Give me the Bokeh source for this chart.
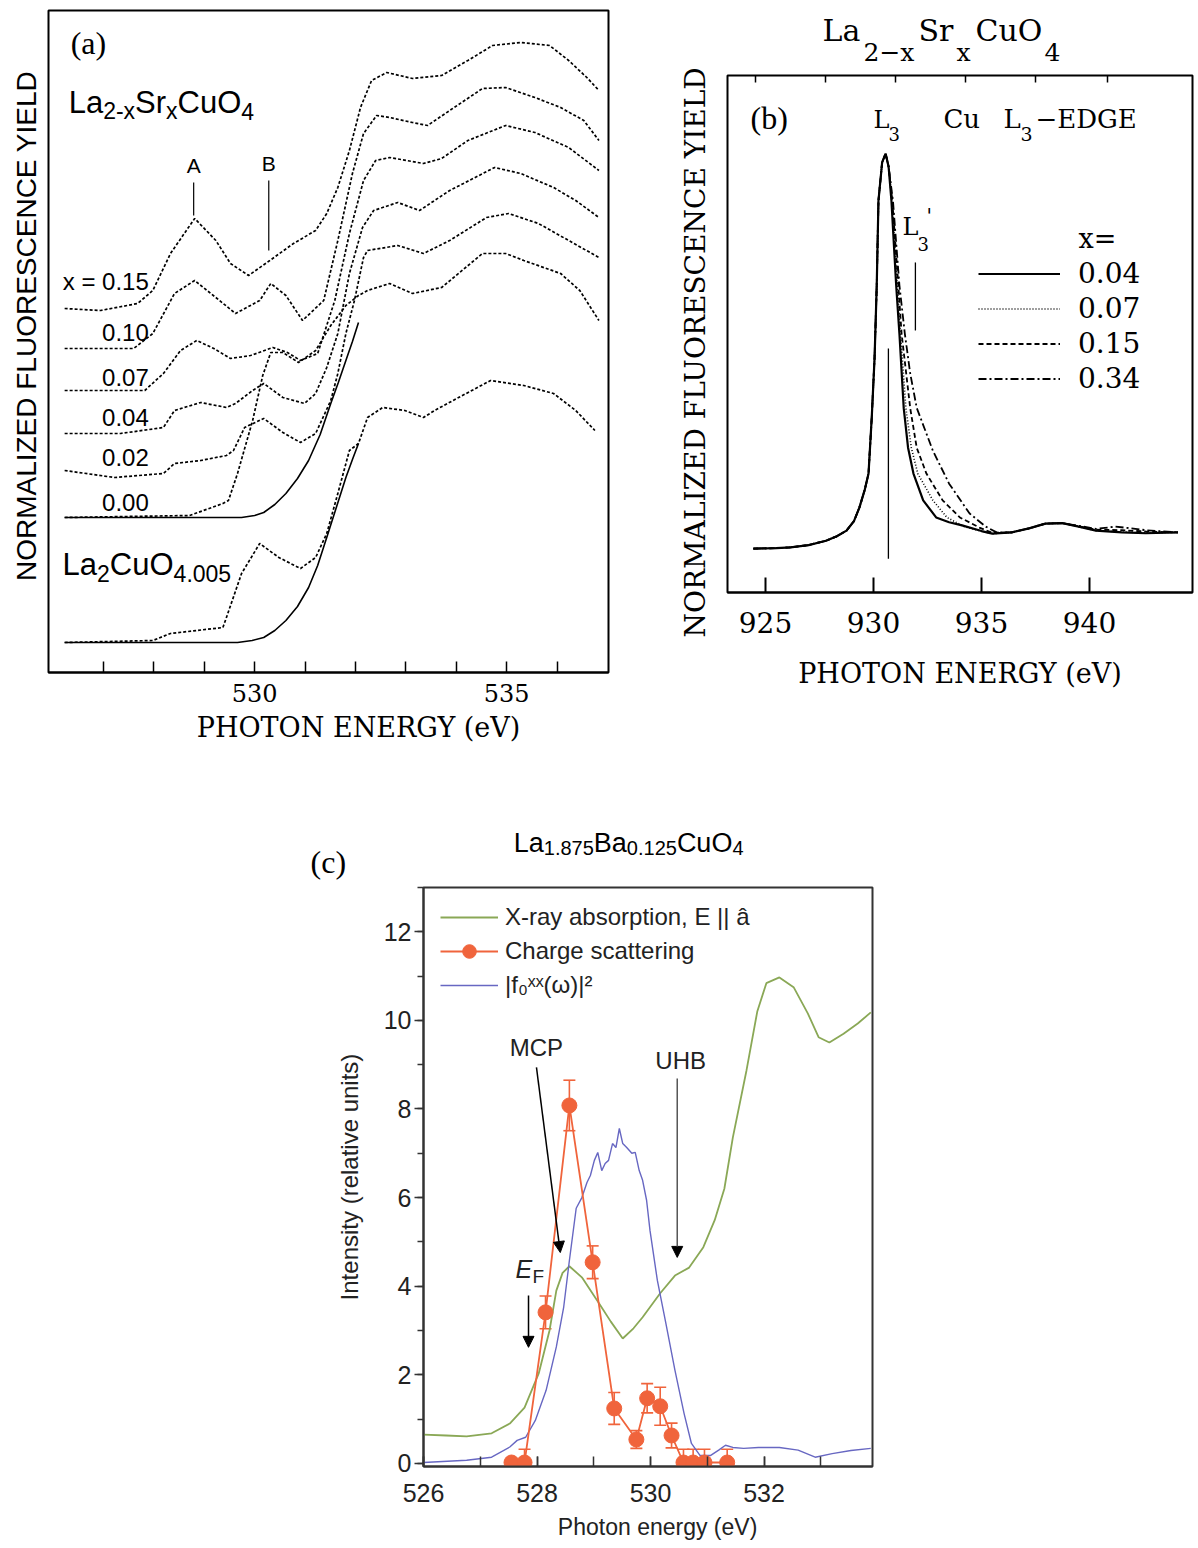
import math
from bokeh.plotting import figure
from bokeh.models import (Label, Legend, LegendItem, FixedTicker, SingleIntervalTicker,
                          LinearAxis, Whisker, TeeHead, Arrow, NormalHead, ColumnDataSource)
from bokeh.layouts import column, row
from bokeh.embed import file_html
from bokeh.resources import INLINE

# ---------------- Panel (a): O K-edge fluorescence yield, La2-xSrxCuO4 ----------------
A_TICKS_MINOR = [527, 528, 529, 531, 532, 533, 534, 536]
A_TICKS_LABELED = [530, 535]
A_CURVE_LABELS = ["x = 0.15", "0.10", "0.07", "0.04", "0.02", "0.00"]
A_LABEL_Y = [3.91, 3.40, 2.95, 2.55, 2.15, 1.70]

A_E_015 = [526.23, 526.94, 527.68, 527.98, 528.33, 528.81, 529.23, 529.52, 529.88, 530.30, 530.77, 531.21,
           531.43, 531.65, 531.88, 532.10, 532.32, 532.62, 533.13, 533.71, 534.23, 534.72, 535.28, 535.85,
           536.23, 536.59, 536.83]
A_I_015 = [3.64, 3.62, 3.69, 3.82, 4.19, 4.54, 4.32, 4.09, 3.97, 4.12, 4.29, 4.42, 4.59, 4.85, 5.22, 5.65,
           5.92, 6.00, 5.94, 5.97, 6.12, 6.27, 6.30, 6.27, 6.12, 5.95, 5.82]
A_E_010 = [526.23, 527.60, 527.98, 528.41, 528.81, 529.23, 529.62, 530.10, 530.32, 530.62, 530.95, 531.37,
           531.65, 531.94, 532.16, 532.42, 532.68, 533.13, 533.43, 533.87, 534.52, 534.98, 535.56, 536.07,
           536.53, 536.83]
A_I_010 = [3.24, 3.24, 3.39, 3.79, 3.92, 3.75, 3.59, 3.72, 3.89, 3.77, 3.52, 3.72, 4.32, 4.99, 5.39, 5.57,
           5.55, 5.50, 5.47, 5.62, 5.84, 5.85, 5.75, 5.65, 5.52, 5.32]
A_E_007 = [526.23, 527.82, 528.19, 528.53, 528.85, 529.19, 529.52, 529.92, 530.36, 530.65, 530.91, 531.25,
           531.59, 531.88, 532.16, 532.40, 532.68, 533.35, 533.71, 534.23, 534.98, 535.56, 536.23, 536.83]
A_I_007 = [2.82, 2.82, 2.99, 3.22, 3.32, 3.24, 3.14, 3.17, 3.25, 3.20, 3.12, 3.19, 3.72, 4.39, 4.92, 5.12,
           5.15, 5.09, 5.14, 5.32, 5.47, 5.40, 5.25, 5.02]
A_E_004 = [526.23, 527.34, 528.19, 528.41, 528.93, 529.44, 529.62, 529.96, 530.18, 530.56, 530.99, 531.21,
           531.43, 531.65, 531.88, 532.14, 532.36, 532.84, 533.27, 533.87, 534.76, 535.28, 535.93, 536.37,
           536.83]
A_I_004 = [2.39, 2.39, 2.45, 2.62, 2.70, 2.65, 2.69, 2.82, 2.89, 2.75, 2.69, 2.79, 3.05, 3.39, 3.99, 4.45,
           4.62, 4.70, 4.62, 4.82, 5.05, 4.99, 4.85, 4.72, 4.55]
A_E_002 = [526.23, 527.22, 528.19, 528.41, 528.93, 529.44, 529.58, 529.80, 530.18, 530.56, 530.91, 531.21,
           531.51, 531.65, 531.81, 531.98, 532.16, 532.24, 532.84, 533.35, 533.87, 534.60, 535.04, 535.63,
           536.23, 536.83]
A_I_002 = [2.02, 1.95, 1.99, 2.09, 2.12, 2.17, 2.22, 2.45, 2.54, 2.40, 2.30, 2.39, 2.72, 2.99, 3.39, 3.72,
           4.15, 4.22, 4.27, 4.19, 4.32, 4.55, 4.59, 4.49, 4.32, 4.15]
A_E_000 = [526.23, 528.71, 529.37, 529.48, 529.66, 529.96, 530.16, 530.32, 530.56, 530.87, 531.21, 531.51,
           531.81, 532.06, 532.24, 532.68, 533.13, 533.71, 534.52, 534.98, 535.34, 536.07, 536.45, 536.83]
A_I_000 = [1.55, 1.57, 1.69, 1.72, 1.99, 2.52, 2.97, 3.20, 3.20, 3.10, 3.22, 3.47, 3.67, 3.77, 3.82, 3.89,
           3.79, 3.85, 4.19, 4.19, 4.12, 3.99, 3.82, 3.52]
A_E_000_STEP = [526.23, 529.74, 530.00, 530.18, 530.40, 530.62, 530.85, 531.07, 531.30, 531.51, 531.66,
                531.81, 531.94, 532.06]
A_I_000_STEP = [1.55, 1.55, 1.57, 1.60, 1.68, 1.79, 1.94, 2.12, 2.38, 2.69, 2.90, 3.12, 3.31, 3.50]
A_E_LCO = [526.23, 527.98, 528.33, 529.37, 529.44, 529.74, 530.10, 530.48, 530.91, 531.21, 531.43, 531.65,
           531.88, 532.06, 532.24, 532.54, 532.98, 533.35, 533.57, 534.01, 534.68, 535.34, 535.93, 536.37,
           536.75]
A_I_LCO = [0.30, 0.32, 0.39, 0.45, 0.55, 0.99, 1.29, 1.15, 1.04, 1.15, 1.39, 1.79, 2.22, 2.29, 2.55, 2.65,
           2.62, 2.55, 2.62, 2.74, 2.92, 2.87, 2.79, 2.62, 2.42]
A_E_LCO_STEP = [526.23, 529.66, 529.95, 530.18, 530.40, 530.62, 530.85, 531.07, 531.25, 531.43, 531.62,
                531.81, 531.94, 532.06]
A_I_LCO_STEP = [0.30, 0.30, 0.32, 0.35, 0.42, 0.52, 0.66, 0.85, 1.07, 1.35, 1.65, 1.95, 2.13, 2.29]
A_MARK_E = [528.79, 530.28]
A_MARK_LO = [4.57, 4.22]
A_MARK_HI = [4.90, 4.92]
A_MARK_TEXT = ["A", "B"]

# ---------------- Panel (b): Cu L3-edge ----------------
B_TICKS = [925, 930, 935, 940]
B_TOP_TICKS = [924.54, 927.78, 931.02, 934.26, 937.5, 940.83]
B_E_LEFT = [924.44, 925.5, 926.16, 927.0, 927.8, 928.3, 928.75, 929.1, 929.35, 929.6, 929.77, 929.92,
            930.05, 930.15, 930.23, 930.4, 930.56]
B_I_LEFT = [0.100, 0.101, 0.103, 0.108, 0.118, 0.128, 0.141, 0.163, 0.194, 0.235, 0.271, 0.40, 0.535,
            0.70, 0.893, 0.98, 1.0]
B_E_004 = [930.7, 930.83, 931.05, 931.2, 931.4, 931.6, 931.85, 932.3, 932.9, 933.5, 934.1, 935.0, 935.5,
           936.4, 937.2, 937.96, 938.75, 939.5, 940.3, 941.5, 942.6, 944.1]
B_I_004 = [0.97, 0.893, 0.70, 0.59, 0.42, 0.33, 0.271, 0.21, 0.171, 0.16, 0.153, 0.140, 0.134, 0.137,
           0.146, 0.157, 0.158, 0.150, 0.141, 0.137, 0.135, 0.137]
B_E_007 = [930.7, 930.85, 931.1, 931.25, 931.5, 931.75, 932.05, 932.75, 933.4, 934.2, 935.0, 935.5, 936.4,
           937.2, 937.96, 938.75, 939.5, 940.3, 941.5, 942.6, 944.1]
B_I_007 = [0.97, 0.893, 0.70, 0.59, 0.42, 0.33, 0.271, 0.21, 0.171, 0.150, 0.140, 0.134, 0.137, 0.146,
           0.157, 0.158, 0.150, 0.141, 0.138, 0.136, 0.137]
B_E_015 = [930.7, 930.87, 931.15, 931.3, 931.7, 932.0, 932.45, 933.2, 934.0, 934.9, 935.5, 936.4, 937.2,
           937.96, 938.75, 939.5, 940.3, 941.5, 942.6, 944.1]
B_I_015 = [0.97, 0.893, 0.70, 0.59, 0.42, 0.33, 0.271, 0.21, 0.171, 0.148, 0.136, 0.137, 0.146, 0.157,
           0.158, 0.151, 0.143, 0.142, 0.139, 0.137]
B_E_034 = [930.7, 930.9, 931.2, 931.45, 931.7, 932.0, 932.75, 933.5, 934.45, 935.2, 935.7, 936.4, 937.2,
           937.96, 938.75, 939.5, 940.3, 941.2, 941.8, 942.6, 944.1]
B_I_034 = [0.97, 0.893, 0.70, 0.59, 0.499, 0.421, 0.323, 0.248, 0.18, 0.150, 0.137, 0.137, 0.146, 0.157,
           0.158, 0.152, 0.145, 0.150, 0.147, 0.142, 0.137]
B_SERIES = ["0.04", "0.07", "0.15", "0.34"]
B_MARK_E = [930.69, 931.94]
B_MARK_LO = [0.077, 0.597]
B_MARK_HI = [0.556, 0.752]

# ---------------- Panel (c): La1.875Ba0.125CuO4 ----------------
C_XAS_E = [526.0, 526.4, 526.76, 527.2, 527.52, 527.78, 528.03, 528.22, 528.34, 528.45, 528.57, 528.79,
           529.1, 529.3, 529.51, 529.7, 529.86, 530.17, 530.43, 530.68, 530.93, 531.13, 531.3, 531.45,
           531.69, 531.88, 532.04, 532.27, 532.52, 532.77, 532.96, 533.15, 533.4, 533.65, 533.88]
C_XAS_I = [0.65, 0.63, 0.61, 0.68, 0.90, 1.26, 2.03, 3.0, 3.9, 4.3, 4.45, 4.2, 3.6, 3.2, 2.82, 3.05, 3.3,
           3.84, 4.24, 4.42, 4.88, 5.49, 6.2, 7.36, 8.87, 10.2, 10.84, 10.97, 10.75, 10.16, 9.62, 9.5, 9.7,
           9.93, 10.18]
C_F0_E = [526.0, 526.76, 527.2, 527.52, 527.65, 527.8, 527.97, 528.16, 528.34, 528.47, 528.57, 528.69,
          528.79, 528.88, 528.94, 529.01, 529.07, 529.14, 529.2, 529.26, 529.33, 529.39, 529.45, 529.51,
          529.58, 529.67, 529.73, 529.8, 529.86, 529.93, 529.99, 530.12, 530.27, 530.43, 530.59, 530.72,
          530.87, 531.06, 531.2, 531.32, 531.45, 531.64, 531.9, 532.27, 532.6, 532.9, 533.2, 533.53, 533.88]
C_F0_I = [0.02, 0.07, 0.14, 0.37, 0.52, 0.59, 0.97, 1.65, 2.63, 3.53, 4.58, 5.76, 6.0, 6.34, 6.5, 6.84,
          7.02, 6.61, 6.77, 6.84, 7.22, 7.13, 7.56, 7.22, 7.13, 7.0, 7.02, 6.61, 6.39, 5.94, 5.26, 4.13, 3.16,
          2.1, 1.13, 0.45, 0.18, 0.18, 0.3, 0.41, 0.36, 0.34, 0.36, 0.36, 0.3, 0.14, 0.22, 0.29, 0.34]
C_CS_E = [527.55, 527.78, 528.15, 528.57, 528.98, 529.36, 529.75, 529.94, 530.17, 530.37, 530.58, 530.75,
          530.95, 531.35]
C_CS_I = [0.02, 0.02, 3.41, 8.08, 4.54, 1.24, 0.54, 1.47, 1.29, 0.63, 0.02, 0.02, 0.02, 0.02]
C_CS_ERR = [0.0, 0.3, 0.37, 0.57, 0.37, 0.36, 0.2, 0.33, 0.43, 0.28, 0.3, 0.3, 0.3, 0.3]
C_LEGEND = ["X-ray absorption, E || â", "Charge scattering", "|f₀ˣˣ(ω)|²"]
C_ARROW_X0 = [527.99, 530.47, 527.85]
C_ARROW_Y0 = [8.94, 8.69, 3.79]
C_ARROW_X1 = [528.41, 530.47, 527.85]
C_ARROW_Y1 = [4.76, 4.65, 2.62]

GREEN = "#8aa856"
BLUE = "#6767c2"
ORANGE = "#f0643c"
NB = "\u00a0"
SERIF = "DejaVu Serif"

ARIAL = {'L': 0.556, 'a': 0.556, '-': 0.333, 'x': 0.5, 'S': 0.667, 'r': 0.333, 'C': 0.722, 'u': 0.556,
         'O': 0.778, '.': 0.278, 'B': 0.667}


def lab(p, x, y, text, font, size, align="left", baseline="alphabetic", xo=0, yo=0,
        style="normal", color="black", angle=0.0):
    if baseline == "alphabetic":
        yo = yo + 0.36 * size
    p.add_layout(Label(x=x, y=y, text=text, text_font=font, text_font_size=f"{size}px",
                       text_align=align, text_baseline=baseline, x_offset=xo, y_offset=yo,
                       text_font_style=style, text_color=color, angle=angle))


def chain(p, x, y, pieces, font, size, sub, drop, color="black"):
    off = 0.0
    for txt, kind in pieces:
        s = size if kind == "n" else sub
        dy = 0 if kind == "n" else -drop
        lab(p, x, y, txt, font, s, xo=off, yo=dy, color=color)
        off += sum(ARIAL.get(c, 0.556) for c in txt) * s


def base_fig(**kw):
    p = figure(output_backend="svg", toolbar_location=None, **kw)
    p.grid.visible = False
    p.background_fill_color = "white"
    p.border_fill_color = "white"
    return p


def text_fig(**kw):
    p = base_fig(x_axis_location=None, y_axis_location=None, min_border_left=0, min_border_right=0,
                 min_border_top=0, min_border_bottom=0, **kw)
    p.outline_line_color = None
    return p


# ======================= Panel (a) =======================
pa = base_fig(width=668, height=760, x_range=(525.91, 537.02), y_range=(0, 6.62),
              min_border_left=48, min_border_right=60, min_border_top=10, min_border_bottom=88)
pa.outline_line_color = "black"
pa.outline_line_width = 2
pa.outline_line_alpha = 1
ya = pa.yaxis[0]
ya.ticker = FixedTicker(ticks=[])
ya.axis_line_color = None
ya.major_tick_line_color = None
ya.minor_tick_line_color = None
ya.major_label_standoff = 0
ya.axis_label = NB * 4 + "NORMALIZED FLUORESCENCE YIELD"
ya.axis_label_text_font = "Liberation Sans"
ya.axis_label_text_font_size = "28px"
ya.axis_label_text_font_style = "normal"
ya.axis_label_text_color = "black"
ya.axis_label_standoff = 7
xa = pa.xaxis[0]
xa.ticker = FixedTicker(ticks=A_TICKS_LABELED, minor_ticks=A_TICKS_MINOR)
xa.major_tick_in = 11
xa.major_tick_out = 0
xa.minor_tick_in = 11
xa.minor_tick_out = 0
xa.major_tick_line_width = 1.5
xa.minor_tick_line_width = 1.5
xa.minor_tick_line_color = "black"
xa.axis_line_width = 2
xa.major_label_text_font = SERIF
xa.major_label_text_font_size = "24px"
xa.major_label_text_color = "black"
xa.major_label_standoff = 11
xa.axis_label = NB * 7 + "PHOTON ENERGY (eV)"
xa.axis_label_text_font = SERIF
xa.axis_label_text_font_size = "27px"
xa.axis_label_text_font_style = "normal"
xa.axis_label_text_color = "black"
xa.axis_label_standoff = 7

DOT = dict(line_color="black", line_width=1.7, line_dash="3 2")
for e, i in [(A_E_015, A_I_015), (A_E_010, A_I_010), (A_E_007, A_I_007), (A_E_004, A_I_004),
             (A_E_002, A_I_002), (A_E_000, A_I_000), (A_E_LCO, A_I_LCO)]:
    pa.line(e, i, **DOT)
pa.line(A_E_000_STEP, A_I_000_STEP, line_color="black", line_width=1.6)
pa.line(A_E_LCO_STEP, A_I_LCO_STEP, line_color="black", line_width=1.6)
pa.segment(x0=A_MARK_E, y0=A_MARK_LO, x1=A_MARK_E, y1=A_MARK_HI, line_color="black", line_width=1.2)
for e, hi, t in zip(A_MARK_E, A_MARK_HI, A_MARK_TEXT):
    lab(pa, e, hi, t, "Liberation Sans", 21, align="center", baseline="bottom", yo=6)
for t, y in zip(A_CURVE_LABELS, A_LABEL_Y):
    lab(pa, 527.90, y, t, "Liberation Sans", 24, align="right", baseline="middle")
lab(pa, 526.35, 6.30, "(a)", "Liberation Serif", 32, baseline="middle")
chain(pa, 526.31, 5.59, [("La", "n"), ("2-x", "s"), ("Sr", "n"), ("x", "s"), ("CuO", "n"), ("4", "s")],
      "Liberation Sans", 31, 23, 6)
chain(pa, 526.19, 0.97, [("La", "n"), ("2", "s"), ("CuO", "n"), ("4.005", "s")],
      "Liberation Sans", 31, 23, 6)

# ======================= Panel (b) =======================
B_XR = (923.24, 944.77)
# y-axis title strip (left of panel b)
pb_y = text_fig(width=57, height=760, x_range=(920.509, 923.148), y_range=(-0.3827, 1.3485))
lab(pb_y, 921.76, 0.547, "NORMALIZED FLUORESCENCE YIELD", SERIF, 28, align="center", baseline="middle",
    angle=math.pi / 2)

# title strip
pb_t = text_fig(width=473, height=73, x_range=B_XR, y_range=(1.1822, 1.3485))
pb_t.min_border_left = 2
pb_t.min_border_right = 6
lab(pb_t, 927.639, 1.255, "La", SERIF, 30)
lab(pb_t, 929.537, 1.210, "2\u2212x", SERIF, 25)
lab(pb_t, 932.083, 1.255, "Sr", SERIF, 30)
lab(pb_t, 933.843, 1.210, "x", SERIF, 25)
lab(pb_t, 934.722, 1.255, "CuO", SERIF, 30)
lab(pb_t, 937.917, 1.210, "4", SERIF, 25)

pb = base_fig(width=473, height=687, x_range=B_XR, y_range=(0, 1.178),
              min_border_left=2, min_border_right=6, min_border_top=2, min_border_bottom=168)
pb.outline_line_color = "black"
pb.outline_line_width = 2
pb.outline_line_alpha = 1
pb.yaxis.visible = False
xb = pb.xaxis[0]
xb.ticker = FixedTicker(ticks=B_TICKS)
xb.major_tick_in = 15
xb.major_tick_out = 0
xb.major_tick_line_width = 2
xb.minor_tick_line_color = None
xb.axis_line_width = 2
xb.major_label_text_font = SERIF
xb.major_label_text_font_size = "28px"
xb.major_label_text_color = "black"
xb.major_label_standoff = 19
xb.axis_label = "PHOTON ENERGY (eV)"
xb.axis_label_text_font = SERIF
xb.axis_label_text_font_size = "27px"
xb.axis_label_text_font_style = "normal"
xb.axis_label_text_color = "black"
xb.axis_label_standoff = 22
pb.add_layout(LinearAxis(ticker=FixedTicker(ticks=[], minor_ticks=B_TOP_TICKS), minor_tick_in=7,
                         minor_tick_out=0, minor_tick_line_width=1.5, minor_tick_line_color="black",
                         major_tick_line_color=None, major_label_standoff=0, axis_line_color=None),
              "above")

r004 = pb.line(B_E_LEFT + B_E_004, B_I_LEFT + B_I_004, line_color="black", line_width=2.2)
r007 = pb.line(B_E_LEFT + B_E_007, B_I_LEFT + B_I_007, line_color="black", line_width=1.6, line_dash="1 2")
r015 = pb.line(B_E_LEFT + B_E_015, B_I_LEFT + B_I_015, line_color="black", line_width=1.8, line_dash="5 3")
r034 = pb.line(B_E_LEFT + B_E_034, B_I_LEFT + B_I_034, line_color="black", line_width=1.8,
               line_dash="8 3 2 3")
pb.segment(x0=B_MARK_E, y0=B_MARK_LO, x1=B_MARK_E, y1=B_MARK_HI, line_color="black", line_width=1.3)

leg_b = Legend(items=[LegendItem(label=s, renderers=[r]) for s, r in zip(B_SERIES, [r004, r007, r015, r034])],
               location=(251, 196), glyph_width=82, glyph_height=35, label_height=35, spacing=0,
               padding=0, margin=0, label_standoff=18, label_text_font=SERIF,
               label_text_font_size="28px", label_text_color="black", border_line_alpha=0,
               background_fill_alpha=0)
pb.add_layout(leg_b)

lab(pb, 939.49, 0.784, "x=", SERIF, 27)
lab(pb, 924.31, 1.082, "(b)", "Liberation Serif", 32, baseline="middle")
lab(pb, 930.00, 1.057, "L", SERIF, 24)
lab(pb, 930.69, 1.030, "3", SERIF, 18)
lab(pb, 933.24, 1.057, "Cu", SERIF, 26)
lab(pb, 936.02, 1.057, "L", SERIF, 26)
lab(pb, 936.81, 1.030, "3", SERIF, 19)
lab(pb, 937.50, 1.057, "\u2212EDGE", SERIF, 26)
lab(pb, 931.34, 0.813, "L", SERIF, 24)
lab(pb, 932.04, 0.779, "3", SERIF, 18)
lab(pb, 932.45, 0.886, "'", SERIF, 20, baseline="top")

# ======================= Panel (c) =======================
pc_t = text_fig(width=1198, height=125, x_range=(518.549, 539.652), y_range=(13.047, 15.869))
lab(pc_t, 524.01, 13.57, "(c)", "Liberation Serif", 32, baseline="middle")
chain(pc_t, 527.59, 13.79, [("La", "n"), ("1.875", "s"), ("Ba", "n"), ("0.125", "s"), ("CuO", "n"), ("4", "s")],
      "Liberation Sans", 27, 20, 3)

pc = base_fig(width=1198, height=663, x_range=(526.0, 533.91), y_range=(-0.07, 13.0),
              min_border_left=423, min_border_right=326, min_border_top=2, min_border_bottom=82)
pc.outline_line_color = "#333333"
pc.outline_line_width = 2
pc.outline_line_alpha = 1
TXT = "#222222"
for ax in (pc.xaxis[0], pc.yaxis[0]):
    ax.ticker = SingleIntervalTicker(interval=2, num_minor_ticks=2)
    ax.axis_line_width = 2
    ax.axis_line_color = "#333333"
    ax.major_tick_line_color = "#333333"
    ax.minor_tick_line_color = "#333333"
    ax.major_tick_line_width = 1.5
    ax.minor_tick_line_width = 1.5
    ax.major_label_text_font = "Liberation Sans"
    ax.major_label_text_font_size = "25px"
    ax.major_label_text_color = TXT
    ax.axis_label_text_font = "Liberation Sans"
    ax.axis_label_text_font_style = "normal"
    ax.axis_label_text_color = TXT
xc, yc = pc.xaxis[0], pc.yaxis[0]
xc.major_tick_in, xc.major_tick_out = 10, 0
xc.minor_tick_in, xc.minor_tick_out = 10, 0
xc.major_label_standoff = 17
xc.axis_label = NB * 3 + "Photon energy (eV)"
xc.axis_label_text_font_size = "23px"
xc.axis_label_standoff = 9
yc.major_tick_in, yc.major_tick_out = 0, 9
yc.minor_tick_in, yc.minor_tick_out = 0, 6
yc.major_label_standoff = 3
yc.axis_label = "Intensity (relative units)"
yc.axis_label_text_font_size = "24px"
yc.axis_label_standoff = 18

r_xas = pc.line(C_XAS_E, C_XAS_I, line_color=GREEN, line_width=1.8)
r_f0 = pc.line(C_F0_E, C_F0_I, line_color=BLUE, line_width=1.4)
r_csl = pc.line(C_CS_E, C_CS_I, line_color=ORANGE, line_width=1.8)
err_src = ColumnDataSource(dict(x=C_CS_E,
                                upper=[i + e for i, e in zip(C_CS_I, C_CS_ERR)],
                                lower=[max(i - e, 0.0) for i, e in zip(C_CS_I, C_CS_ERR)]))
pc.add_layout(Whisker(source=err_src, base="x", upper="upper", lower="lower", line_color=ORANGE,
                      line_width=1.6,
                      upper_head=TeeHead(size=12, line_color=ORANGE, line_width=1.6),
                      lower_head=TeeHead(size=12, line_color=ORANGE, line_width=1.6)))
r_csm = pc.scatter(C_CS_E, C_CS_I, marker="circle", size=15, fill_color=ORANGE, line_color=ORANGE)

for x0, y0, x1, y1, col in zip(C_ARROW_X0, C_ARROW_Y0, C_ARROW_X1, C_ARROW_Y1,
                               ["black", "#555555", "black"]):
    pc.add_layout(Arrow(x_start=x0, y_start=y0, x_end=x1, y_end=y1, line_color=col, line_width=1.5,
                        end=NormalHead(size=11, fill_color="black", line_color="black")))

leg_c = Legend(items=[LegendItem(label=C_LEGEND[0], renderers=[r_xas]),
                      LegendItem(label=C_LEGEND[1], renderers=[r_csl, r_csm]),
                      LegendItem(label=C_LEGEND[2], renderers=[r_f0])],
               location=(17, 464), glyph_width=58, glyph_height=34, label_height=34, spacing=0,
               padding=0, margin=0, label_standoff=7, label_text_font="Liberation Sans",
               label_text_font_size="24px", label_text_color=TXT, border_line_alpha=0,
               background_fill_alpha=0)
pc.add_layout(leg_c)

lab(pc, 527.99, 9.39, "MCP", "Liberation Sans", 24, align="center", baseline="middle", color=TXT)
lab(pc, 530.53, 9.10, "UHB", "Liberation Sans", 24, align="center", baseline="middle", color=TXT)
lab(pc, 527.62, 4.18, "E", "Liberation Sans", 25, style="italic", color=TXT)
lab(pc, 527.92, 4.06, "F", "Liberation Sans", 19, color=TXT)

layout = column(row(column(pa), column(pb_y), column(pb_t, pb)), row(pc_t), pc)
open("out.html", "w").write(file_html(layout, INLINE))
